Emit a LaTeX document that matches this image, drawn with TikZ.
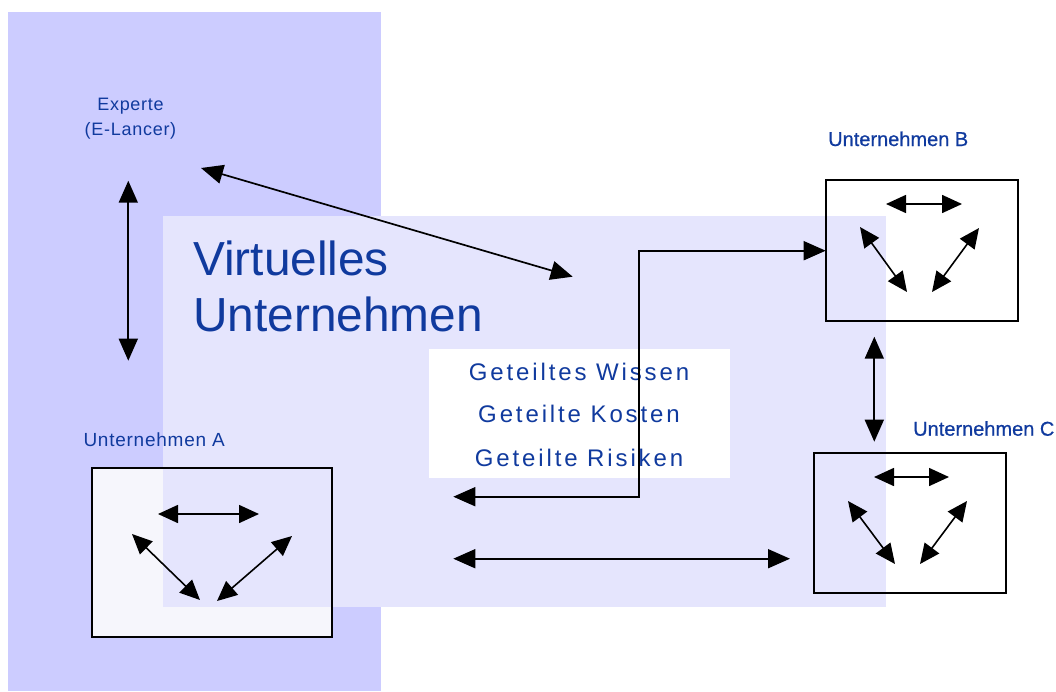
\documentclass[tikz,border=0pt]{standalone}
\usepackage{fontspec}
\setmainfont{Liberation Sans}
\usetikzlibrary{arrows.meta}
\definecolor{expertzone}{RGB}{204,204,255}
\definecolor{vufill}{RGB}{229,229,253}
\definecolor{hatchfill}{RGB}{246,246,252}
\definecolor{textblue}{RGB}{16,58,158}
\newfontfamily\labelfont[LetterSpace=4]{Liberation Sans}
\newfontfamily\firmfont[LetterSpace=0,FakeBold=0.6]{Liberation Sans}
\newfontfamily\sharedfont[LetterSpace=12]{Liberation Sans}
\tikzset{
  bigtip/.tip={Triangle[length=22pt 0 0,width=19pt 0 0]},
  smalltip/.tip={Triangle[length=20pt 0 0,width=18pt 0 0]},
  region/.style={inner sep=0, outer sep=0, draw=none},
  firmbox/.style={inner sep=0, outer sep=0, draw=none, fill=white},
  frame/.style={draw=black, line width=1.6pt},
  link/.style={draw=black, line width=1.7pt, bigtip-bigtip},
  inner/.style={draw=black, line width=1.6pt, smalltip-smalltip},
  caption/.style={inner sep=0, text=textblue},
}
\begin{document}
\begin{tikzpicture}[x=1pt,y=-1pt]
\useasboundingbox (0,0) rectangle (1056,691);
% expert's area
\node[region, fill=expertzone, minimum width=373pt, minimum height=679pt] (zone) at (194.5,351.5) {};
% company boxes (fills first, frames later)
\node[firmbox, fill=hatchfill, minimum width=240pt, minimum height=169pt] (boxA) at (212,552.5) {};
\node[firmbox, minimum width=192pt, minimum height=141pt] (boxB) at (922,250.5) {};
\node[firmbox, minimum width=192pt, minimum height=140pt] (boxC) at (910,523) {};
% virtual enterprise
\node[region, fill=vufill, minimum width=723pt, minimum height=391pt] (vu) at (524.5,411.3) {};
\draw[frame] (boxA.north west) rectangle (boxA.south east);
\draw[frame] (boxB.north west) rectangle (boxB.south east);
\draw[frame] (boxC.north west) rectangle (boxC.south east);
% shared items
\node[region, fill=white, minimum width=301pt, minimum height=129pt] (shared) at (579.5,413.5) {};
\node[caption, anchor=base, font=\sharedfont\fontsize{24}{24}\selectfont] (s1) at (579,380) {Geteiltes Wissen};
\node[caption, anchor=base, font=\sharedfont\fontsize{24}{24}\selectfont] (s2) at (579,422.3) {Geteilte Kosten};
\node[caption, anchor=base, font=\sharedfont\fontsize{24}{24}\selectfont] (s3) at (579,466) {Geteilte Risiken};
% titles
\node[caption, anchor=base west, font=\fontsize{47.8}{47.8}\selectfont] (t1) at (193,275) {Virtuelles};
\node[caption, anchor=base west, font=\fontsize{47.8}{47.8}\selectfont] (t2) at (193,331) {Unternehmen};
\node[caption, anchor=base, font=\labelfont\fontsize{18}{18}\selectfont] (ex1) at (130.5,110.7) {Experte};
\node[caption, anchor=base, font=\labelfont\fontsize{18}{18}\selectfont] (ex2) at (130.5,135) {(E-Lancer)};
\node[caption, anchor=base west, font=\labelfont\fontsize{19}{19}\selectfont] (la) at (83.3,446.7) {Unternehmen A};
\node[caption, anchor=base west, font=\firmfont\fontsize{20}{20}\selectfont] (lb) at (828,146) {Unternehmen B};
\node[caption, anchor=base west, font=\firmfont\fontsize{20}{20}\selectfont] (lc) at (913,435.7) {Unternehmen C};
% connector end points
\coordinate (exTop) at (128.3,180.7);
\coordinate (exBot) at (128.3,360.7);
\coordinate (exDiag) at (201,168);
\coordinate (vuDiag) at (572.7,276.7);
\coordinate (elbowEnd) at (453.3,496.7);
\coordinate (elbowCorner) at (639.3,496.7);
\coordinate (elbowTop) at (639.3,250.7);
\coordinate (bLeft) at (825.7,250.7);
\coordinate (hLeft) at (453.3,558.7);
\coordinate (hRight) at (790,558.7);
\coordinate (bcTop) at (874.3,336.7);
\coordinate (bcBot) at (874.3,441.7);
% main connectors
\draw[link] (exTop) -- (exBot);
\draw[link] (exDiag) -- (vuDiag);
\draw[link] (elbowEnd) -- (elbowCorner) -- (elbowTop) -- (bLeft);
\draw[link] (hLeft) -- (hRight);
\draw[link] (bcTop) -- (bcBot);
% triangles of relations inside the companies
\coordinate (a1) at (158,514); \coordinate (a2) at (259,514);
\coordinate (a3) at (132,534); \coordinate (a4) at (200,600);
\coordinate (a5) at (292,536); \coordinate (a6) at (217,601);
\draw[inner] (a1) -- (a2);
\draw[inner] (a3) -- (a4);
\draw[inner] (a5) -- (a6);
\coordinate (b1) at (886,204); \coordinate (b2) at (962,204);
\coordinate (b3) at (860,227); \coordinate (b4) at (907,292);
\coordinate (b5) at (979,228); \coordinate (b6) at (932,292);
\draw[inner] (b1) -- (b2);
\draw[inner] (b3) -- (b4);
\draw[inner] (b5) -- (b6);
\coordinate (c1) at (874,477); \coordinate (c2) at (949,477);
\coordinate (c3) at (848,501); \coordinate (c4) at (895,564);
\coordinate (c5) at (967,501); \coordinate (c6) at (920,564);
\draw[inner] (c1) -- (c2);
\draw[inner] (c3) -- (c4);
\draw[inner] (c5) -- (c6);
\end{tikzpicture}
\end{document}
